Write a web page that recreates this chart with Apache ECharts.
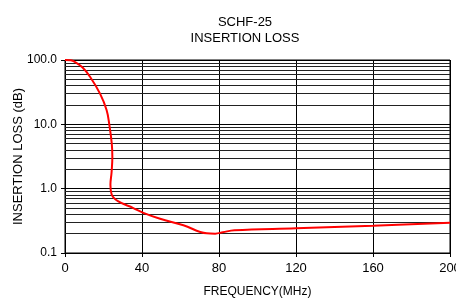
<!DOCTYPE html>
<html>
<head>
<meta charset="utf-8">
<script src="https://cdn.jsdelivr.net/npm/echarts@6/dist/echarts.min.js"></script>
<style>
  html, body { margin: 0; padding: 0; background: #fff; }
  #chart { width: 456px; height: 298px; }
</style>
</head>
<body>
<div id="chart"></div>
<script>
// curve (MHz, dB)
const freq = [0, 3, 5.2, 9, 13, 18.2, 21.6, 23, 24.3, 24.6, 24.2, 23.6, 24.2, 27.5, 35.5, 40.7, 49.4, 61.5, 73.6, 78, 82, 88, 120, 160, 200]
const loss = [100, 99, 93, 77, 55, 30, 16.7, 10, 5, 3.1, 1.8, 1.15, 0.82, 0.64, 0.5, 0.42, 0.34, 0.27, 0.202, 0.2, 0.21, 0.226, 0.242, 0.265, 0.295]
// horizontal minor grid lines (2..9 in each decade)
const minorGrid = [0.2, 0.3, 0.4, 0.5, 0.6, 0.7, 0.8, 0.9, 2, 3, 4, 5, 6, 7, 8, 9, 20, 30, 40, 50, 60, 70, 80, 90]
const xTicks = [0, 40, 80, 120, 160, 200]

const font = 'Liberation Sans, Arial, sans-serif'

const chart = echarts.init(document.getElementById('chart'))
chart.setOption({
  backgroundColor: '#fff',
  animation: false,
  title: {
    text: 'SCHF-25\nINSERTION LOSS',
    left: 240,
    top: 9,
    textAlign: 'center',
    textStyle: { color: '#000', fontSize: 13, fontWeight: 'normal', fontFamily: font, lineHeight: 16 }
  },
  grid: {
    left: 65, right: 6, top: 60, bottom: 45,
    outerBoundsMode: 'none', containLabel: false,
    show: true, borderColor: '#000', borderWidth: 1
  },
  xAxis: {
    type: 'value',
    min: xTicks[0],
    max: xTicks[xTicks.length - 1],
    interval: 40,
    name: 'FREQUENCY(MHz)',
    nameLocation: 'middle',
    nameGap: 33,
    nameMoveOverlap: false,
    nameTextStyle: { color: '#000', fontSize: 12, fontFamily: font },
    axisLine: { lineStyle: { color: '#000', width: 1 } },
    axisTick: { show: true, length: 4, lineStyle: { color: '#000' } },
    axisLabel: { color: '#000', fontSize: 13, fontFamily: font, margin: 9 },
    splitLine: { show: true, lineStyle: { color: '#000', width: 1 } }
  },
  yAxis: {
    type: 'log',
    logBase: 10,
    min: 0.1,
    max: 100,
    name: 'INSERTION LOSS (dB)',
    nameLocation: 'middle',
    nameGap: 40,
    nameMoveOverlap: false,
    nameTextStyle: { color: '#000', fontSize: 13, fontFamily: font },
    axisLine: { show: true, lineStyle: { color: '#000', width: 1 } },
    axisTick: { show: true, length: 4, lineStyle: { color: '#000' } },
    axisLabel: { color: '#000', fontSize: 12, fontFamily: font, margin: 8, formatter: v => Number(v).toFixed(1) },
    splitLine: { show: true, lineStyle: { color: '#000', width: 1 } }
  },
  series: [
    {
      type: 'line',
      data: freq.map((f, i) => [f, loss[i]]),
      smooth: 0.4,
      showSymbol: false,
      lineStyle: { color: '#ff0000', width: 2 },
      z: 5,
      markLine: {
        silent: true,
        symbol: 'none',
        animation: false,
        label: { show: false },
        lineStyle: { color: '#222', width: 1, type: 'solid' },
        data: minorGrid.map(v => ({ yAxis: v }))
      }
    }
  ]
})
</script>
</body>
</html>
